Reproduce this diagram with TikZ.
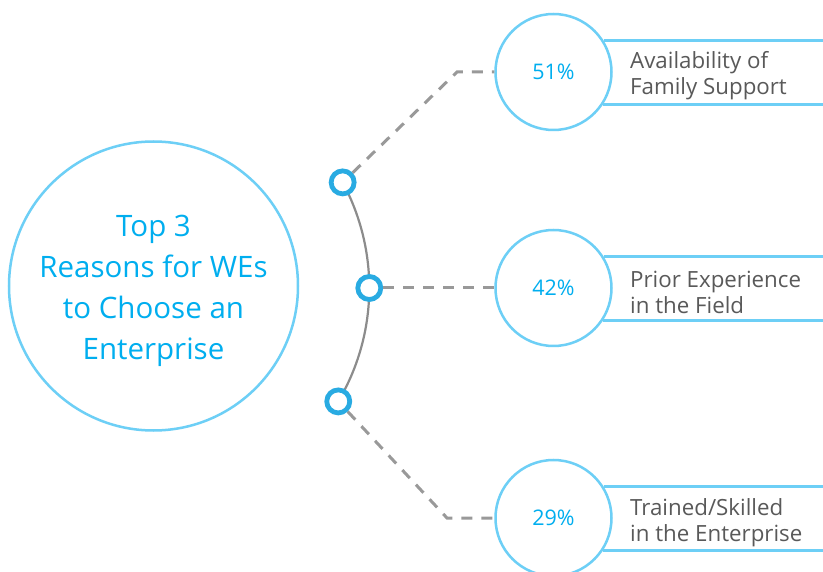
\documentclass[tikz,border=0pt]{standalone}
\usepackage{fontspec}
\setmainfont{Open Sans}
\definecolor{ring}{HTML}{6DCFF6}
\definecolor{txtblue}{HTML}{00AEEF}
\definecolor{dotblue}{HTML}{29ABE2}
\definecolor{txtgray}{HTML}{595959}
\definecolor{dashgray}{HTML}{999999}
\definecolor{arcgray}{HTML}{8C8C8C}
\begin{document}
\begin{tikzpicture}[x=1pt,y=-1pt,
 bigc/.style={circle,draw=ring,line width=2.5pt,minimum size=289pt,inner sep=0pt},
 title/.style={text=txtblue,align=center,inner sep=0pt,font=\fontsize{29.5}{41}\selectfont},
 pct/.style={circle,draw=ring,line width=2.5pt,minimum size=116pt,inner sep=0pt,text=txtblue,font=\fontsize{21.5}{25}\selectfont,fill=white},
 lbl/.style={anchor=west,align=left,text=txtgray,inner sep=0pt,font=\fontsize{22.3}{26}\selectfont},
 dotring/.style={circle,draw=dotblue,line width=4.8pt,minimum size=23pt,inner sep=0pt,fill=white},
 bar/.style={draw=ring,line width=2.5pt},
 link/.style={draw=dashgray,line width=3pt,dash pattern=on 11pt off 9pt},
 arcline/.style={draw=arcgray,line width=2.2pt}
]
\useasboundingbox (0,0) rectangle (823,572);
\fill[white] (0,0) rectangle (823,572);
\coordinate (R) at (830,0);
% central circle
\node[bigc] (main) at (153.5,286) {};
\node[title] (maintext) at (153.5,291) {Top 3\\Reasons for WEs\\to Choose an\\Enterprise};
% arc with dots
\coordinate (C) at (146.5,288);
\draw[arcline] (C) ++(-28.3:222.8) arc[start angle=-28.3, end angle=30.6, radius=222.8];
\path (C) ++(-28.3:222.8) node[dotring] (d1) {};
\path (C) ++(0:222.8) node[dotring] (d2) {};
\path (C) ++(30.6:222.8) node[dotring] (d3) {};
% percentage circles
\node[pct] (c51) at (553.5,72) {\raisebox{-2pt}{51\%}};
\node[pct] (c42) at (553.5,288) {\raisebox{-1pt}{42\%}};
\node[pct] (c29) at (553.5,518) {\raisebox{-2pt}{29\%}};
% bars
\foreach \n in {c51,c42,c29}{
  \draw[bar] (\n.32) -- (\n.32 -| R);
  \draw[bar] (\n.-33) -- (\n.-33 -| R);
}
% labels
\node[lbl] (t51) at (630,76) {Availability of\\Family Support};
\node[lbl] (t42) at (630,292) {Prior Experience\\in the Field};
\node[lbl] (t29) at (630,523) {Trained/Skilled\\in the Enterprise};
% dashed links
\coordinate (k1) at (457,72);
\coordinate (k3) at (447,518);
\draw[link] (d1) -- (k1) -- (c51);
\draw[link] (d2) -- (c42);
\draw[link] (d3) -- (k3) -- (c29);
\end{tikzpicture}
\end{document}
